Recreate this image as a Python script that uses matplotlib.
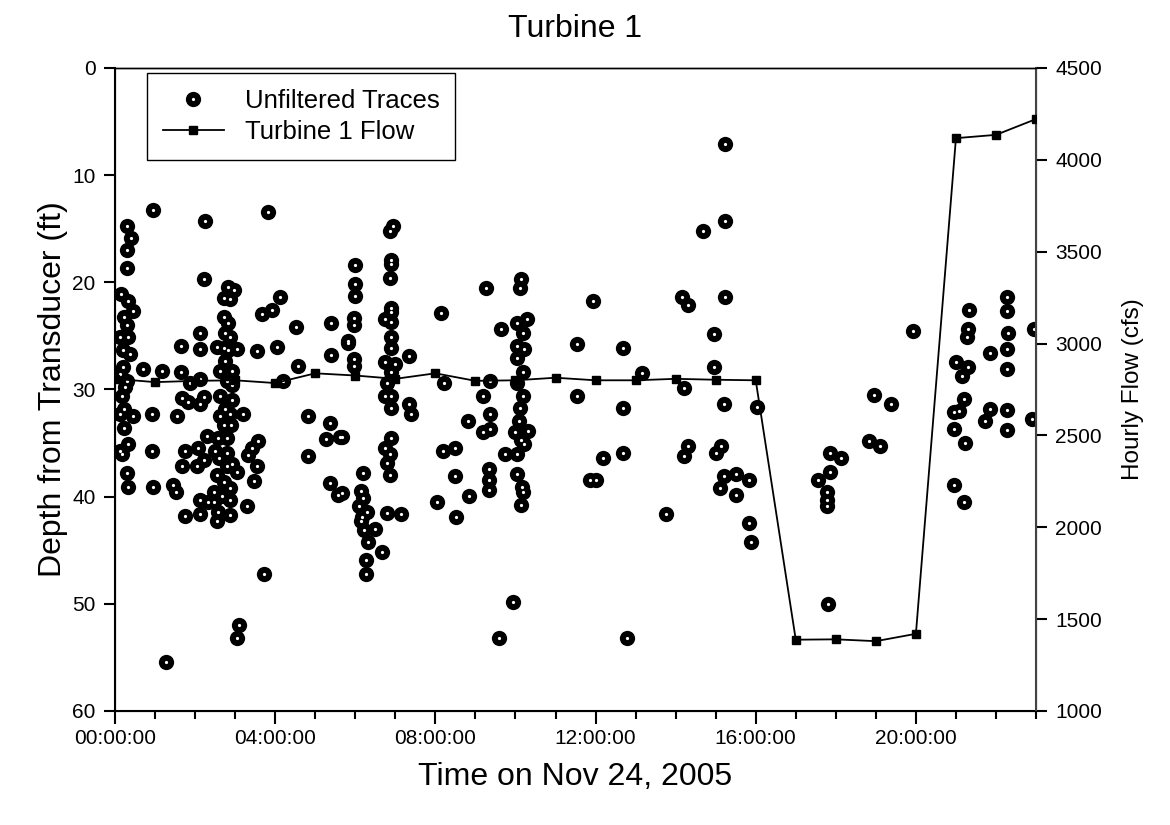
import numpy as np
import matplotlib
matplotlib.use("Agg")
import matplotlib.pyplot as plt
from matplotlib.ticker import MultipleLocator, FuncFormatter

plt.rcParams['font.family'] = ['Liberation Sans', 'DejaVu Sans']

# Hourly turbine flow (cfs)
flow_hours = list(range(24))
flow_cfs = [2808, 2790, 2797, 2800, 2785, 2838, 2826, 2808, 2838, 2797, 2800, 2814,
            2800, 2800, 2808, 2803, 2800, 1388, 1390, 1380, 1420, 4118, 4136, 4222]

# Unfiltered traces: time (hours after midnight) and depth (ft)
trace_hours = [
    0.31, 0.39, 0.31, 0.31, 0.14, 0.33, 0.46, 0.23, 0.31, 0.33, 0.21, 0.21, 0.31, 0.17,
    0.23, 0.46, 0.23, 0.33, 0.17, 0.29, 0.33, 0.13, 0.13, 0.13, 0.13, 0.25, 0.38,
    0.71, 0.96, 1.17, 0.92, 0.92, 0.96, 1.28, 1.44, 1.52, 1.64, 1.64, 1.67, 1.56, 1.88,
    1.83, 1.75, 1.67, 1.75, 2.13, 2.11, 2.11, 2.21, 2.11, 2.21, 2.25, 2.29, 2.08, 2.21,
    2.04, 2.13, 2.33, 2.11,
    2.83, 2.96, 2.71, 2.88, 2.71, 2.83, 2.75, 2.88, 2.71, 2.54, 2.83, 3.05, 2.75, 2.63,
    2.92, 2.79, 2.92, 2.63, 2.92, 2.75, 2.63, 2.88, 3.19, 2.71, 2.89, 2.58, 2.79, 2.50,
    2.79, 2.60, 2.92, 2.80, 2.54, 3.05, 2.71, 2.46, 2.88, 2.67, 2.88, 2.46, 3.29, 2.58,
    2.88, 2.55, 3.04, 3.10,
    3.33, 3.54, 3.42, 3.58, 3.48, 3.54, 3.67, 3.92, 4.13, 3.81, 3.71, 4.04, 4.19, 4.58,
    4.53, 4.81, 4.83, 5.38, 5.28, 5.63, 5.40, 5.40, 5.38, 5.58, 5.83, 5.67, 5.67,
    5.83, 6.00, 6.00, 6.00, 5.98, 5.98, 5.98, 5.98, 6.20, 6.14, 6.19, 6.29, 6.14, 6.21,
    6.33, 6.50, 6.67, 6.27, 6.27, 6.10, 6.17,
    6.95, 6.87, 6.90, 6.90, 6.87, 6.90, 6.90, 6.75, 6.88, 6.88, 6.90, 6.75, 7.00, 6.88,
    6.80, 6.75, 6.88, 6.88, 7.33, 7.35, 7.40, 6.90, 6.75, 6.87, 6.80, 6.87, 6.80, 7.14,
    8.13, 8.21, 8.19, 8.48, 8.81, 8.50, 8.04, 8.52, 8.83, 9.27, 9.63, 9.20, 9.37, 9.37,
    9.19, 9.33, 9.33, 9.33, 9.37, 9.58, 9.94, 9.75,
    10.14, 10.11, 10.04, 10.29, 10.19, 10.04, 10.21, 10.04, 10.19, 10.04, 10.19, 10.11,
    10.08, 10.00, 10.31, 10.21, 10.04, 10.04, 10.17, 10.19, 10.14, 10.13,
    11.54, 11.54, 11.94, 11.87, 12.68, 13.15, 12.68, 12.68, 12.18, 12.02, 12.79, 13.75,
    14.20, 14.17, 14.31, 14.68, 15.23, 15.23, 15.23, 14.96, 14.96, 15.21, 14.31, 14.21,
    15.13, 15.00, 15.21, 15.50, 15.82, 15.11, 15.50, 15.82, 15.89, 16.04,
    17.86, 18.14, 17.86, 17.56, 17.79, 17.79, 17.79, 17.81, 18.82, 19.10, 18.96, 19.39,
    19.92, 21.00, 21.14, 21.29, 21.32, 21.29, 21.27, 21.21, 21.08, 20.96, 20.96, 21.23,
    20.96, 21.21, 21.85, 21.85, 21.73, 22.27, 22.27, 22.31, 22.27, 22.27, 22.27, 22.27,
    22.94, 22.90,
]
trace_depth = [
    14.7, 15.9, 17.0, 18.7, 21.1, 21.7, 22.7, 23.2, 24.0, 25.1, 26.3, 27.9, 29.2, 30.6,
    31.8, 32.5, 33.6, 35.1, 36.0, 37.8, 39.1, 25.1, 28.6, 32.3, 35.7, 29.8, 26.7,
    28.1, 13.25, 28.3, 32.3, 35.7, 39.1, 55.4, 38.9, 39.6, 25.9, 28.4, 30.8, 32.5, 29.4,
    31.2, 35.7, 37.1, 41.8, 24.7, 26.2, 29.0, 30.7, 31.4, 19.7, 14.3, 34.3, 35.5, 36.6,
    37.1, 40.3, 40.5, 41.6,
    20.4, 20.7, 21.5, 21.6, 23.2, 23.8, 24.7, 25.1, 26.1, 26.0, 26.3, 26.2, 27.3, 28.3,
    28.3, 29.2, 29.6, 30.6, 31.0, 31.8, 32.5, 32.3, 32.3, 33.3, 33.3, 34.5, 34.5, 35.7,
    35.9, 36.4, 37.0, 37.1, 38.0, 37.7, 38.6, 39.6, 39.2, 39.9, 40.3, 40.5, 40.9, 41.4,
    41.7, 42.3, 53.2, 52.0,
    36.1, 37.1, 35.5, 34.8, 38.5, 26.4, 23.0, 22.6, 21.4, 13.4, 47.2, 26.0, 29.2, 27.8,
    24.2, 32.5, 36.2, 33.1, 34.6, 34.4, 23.8, 26.8, 38.7, 39.8, 25.5, 34.4, 39.7,
    25.7, 18.4, 20.2, 21.3, 23.3, 24.0, 27.2, 27.8, 37.8, 39.5, 40.1, 41.4, 42.3, 43.1,
    44.2, 43.0, 45.2, 45.9, 47.2, 40.9, 41.9,
    14.7, 15.2, 17.9, 18.3, 19.6, 22.4, 22.8, 23.4, 23.7, 25.1, 26.1, 27.4, 27.6, 28.4,
    29.4, 30.6, 30.6, 31.7, 26.9, 31.4, 32.3, 34.5, 35.5, 36.0, 36.9, 38.0, 41.5, 41.6,
    22.9, 29.4, 35.7, 35.5, 32.9, 38.1, 40.5, 41.9, 39.9, 20.5, 24.4, 30.6, 32.3, 33.7,
    34.0, 37.4, 38.4, 39.4, 29.2, 53.2, 49.8, 36.0,
    19.7, 20.5, 23.8, 23.4, 24.7, 25.9, 26.2, 27.1, 28.4, 29.4, 30.6, 31.7,
    32.9, 34.0, 33.9, 35.1, 36.0, 37.9, 39.1, 39.6, 40.8, 34.7,
    25.8, 30.6, 21.7, 38.4, 26.1, 28.5, 31.7, 35.9, 36.4, 38.4, 53.2, 41.6,
    29.9, 21.4, 22.1, 15.2, 7.1, 14.3, 21.4, 24.8, 27.9, 31.4, 35.3, 36.2,
    35.3, 35.9, 38.1, 37.9, 38.4, 39.2, 39.8, 42.5, 44.2, 31.6,
    35.9, 36.4, 37.7, 38.4, 39.6, 40.3, 40.9, 50.0, 34.8, 35.3, 30.5, 31.4,
    24.5, 27.4, 28.7, 27.9, 22.6, 24.4, 25.1, 30.9, 32.0, 32.1, 33.7, 35.0,
    38.9, 40.5, 26.6, 31.8, 32.9, 21.4, 22.7, 24.7, 26.2, 28.1, 31.9, 33.8,
    24.4, 32.8,
]

x_ticks = [0, 4, 8, 12, 16, 20]


def hhmmss(x, pos):
    return f"{int(round(x)):02d}:00:00"


fig = plt.figure(figsize=(11.7, 8.25), dpi=100)
ax = fig.add_axes([0.0983, 0.1382, 0.7872, 0.7794])
ax2 = ax.twinx()

# traces: black disc with a small white centre
dot_black, = ax.plot(trace_hours, trace_depth, linestyle='none', marker='o',
                     markersize=11, markerfacecolor='black', markeredgewidth=0,
                     zorder=3)
dot_white, = ax.plot(trace_hours, trace_depth, linestyle='none', marker='o',
                     markersize=2.3, markerfacecolor='white', markeredgewidth=0,
                     zorder=3)

fl, = ax2.plot(flow_hours, flow_cfs, color='black', linewidth=1.3, marker='s',
               markersize=5.5, zorder=4)

ax.set_xlim(0, 23)
ax.set_ylim(60, 0)
ax2.set_ylim(1000, 4500)

ax.set_xticks(x_ticks)
ax.xaxis.set_major_formatter(FuncFormatter(hhmmss))
ax.xaxis.set_minor_locator(MultipleLocator(1))
ax.set_yticks(range(0, 61, 10))
ax2.set_yticks(range(1000, 4501, 500))

ax.tick_params(axis='x', which='major', direction='out', length=9, width=1.5,
               labelsize=15, pad=4)
ax.tick_params(axis='x', which='minor', direction='out', length=6, width=1.5)
ax.tick_params(axis='y', direction='out', length=8, width=1.5, labelsize=15, pad=6)
ax2.tick_params(axis='y', direction='out', length=8, width=1.5, labelsize=15, pad=6)

for sp in ['left', 'bottom']:
    ax.spines[sp].set_linewidth(1.5)
ax.spines['top'].set_linewidth(1.0)
ax2.spines['right'].set_linewidth(1.5)
ax2.spines['right'].set_color('#444444')
ax2.spines['top'].set_linewidth(1.0)

ax.set_title('Turbine 1', fontsize=23, pad=22)
ax.set_xlabel('Time on Nov 24, 2005', fontsize=23, labelpad=10)
ax.set_ylabel('Depth from Transducer (ft)', fontsize=23, labelpad=3)
ax2.set_ylabel('Hourly Flow (cfs)', fontsize=17.5, labelpad=14)

leg = ax2.legend([(dot_black, dot_white), fl], ['Unfiltered Traces', 'Turbine 1 Flow'],
                 loc='upper left', bbox_to_anchor=(0.035, 0.992), fontsize=18.5,
                 fancybox=False, framealpha=1, edgecolor='black', handlelength=2.4,
                 borderpad=0.6, labelspacing=0.3, handletextpad=0.8, borderaxespad=0)
leg.get_frame().set_linewidth(1.0)

fig.savefig('out.png', dpi=100)
